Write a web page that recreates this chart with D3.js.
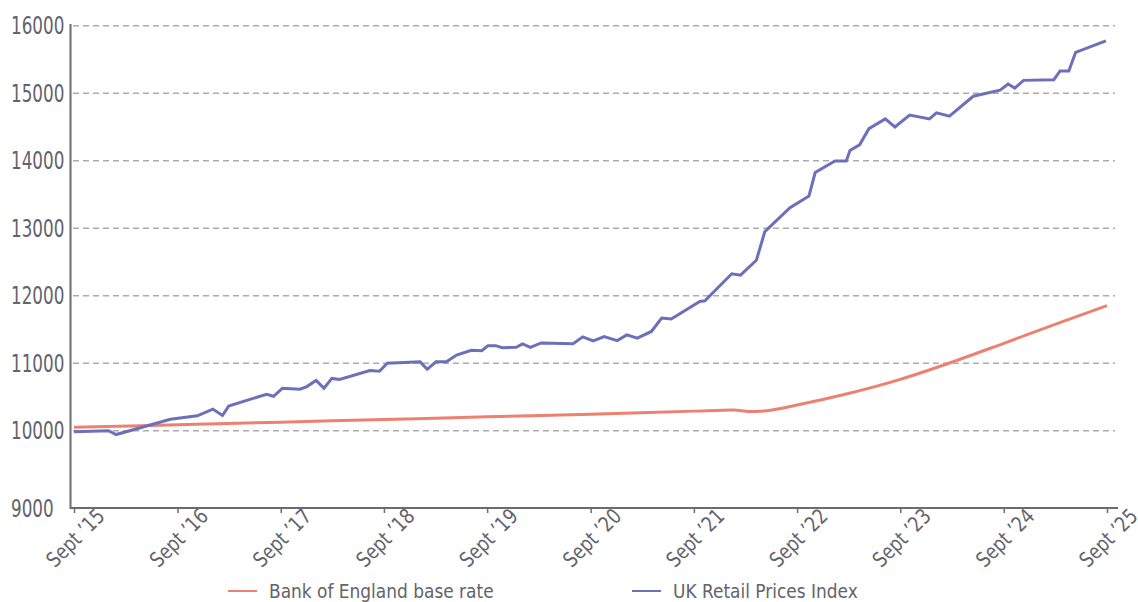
<!DOCTYPE html>
<html>
<head>
<meta charset="utf-8">
<script src="https://cdn.jsdelivr.net/npm/d3@7"></script>
<style>
  body { margin: 0; background: #fff; }
  text { font-family: "DejaVu Sans", sans-serif; fill: #63636b; }
</style>
</head>
<body>
<div id="chart"></div>
<script>
// values

var yTicks = [9000, 10000, 11000, 12000, 13000, 14000, 15000, 16000];
var gridTicks = [10000, 11000, 12000, 13000, 14000, 15000, 16000];

var xTickDates = ["2015-09-01", "2016-09-01", "2017-09-01", "2018-09-01", "2019-09-01",
  "2020-09-01", "2021-09-01", "2022-09-01", "2023-09-01", "2024-09-01", "2025-09-01"];
var xTickLabels = ["Sept \u201915", "Sept \u201916", "Sept \u201917", "Sept \u201918", "Sept \u201919",
  "Sept \u201920", "Sept \u201921", "Sept \u201922", "Sept \u201923", "Sept \u201924", "Sept \u201925"];

var seriesNames = ["Bank of England base rate", "UK Retail Prices Index"];
var seriesColors = ["#ec8172", "#6c70b9"];

// Bank of England base rate (10000 invested Sept '15)
var rateDates = ["2015-09-01", "2016-09-01", "2017-09-01", "2018-09-01", "2019-09-01",
  "2020-09-01", "2021-09-01", "2022-01-20", "2022-03-16", "2022-05-16", "2022-09-01",
  "2023-03-01", "2023-09-01", "2024-03-01", "2024-09-01", "2025-03-01", "2025-09-01"];
var rateValues = [10050, 10088, 10127, 10166, 10205,
  10245, 10290, 10307, 10284, 10297, 10380,
  10550, 10760, 11015, 11295, 11575, 11852];

// UK Retail Prices Index (rebased to 10000)
var rpiDates = ["2015-09-01", "2016-01-01", "2016-01-28", "2016-08-07", "2016-11-10",
  "2017-01-04", "2017-02-07", "2017-03-01", "2017-07-13", "2017-08-07", "2017-09-07",
  "2017-11-07", "2017-12-01", "2018-01-04", "2018-02-01", "2018-03-01", "2018-03-28",
  "2018-07-13", "2018-08-16", "2018-09-13", "2019-01-07", "2019-02-01", "2019-03-04",
  "2019-04-10", "2019-05-16", "2019-07-07", "2019-08-13", "2019-09-04", "2019-10-01",
  "2019-10-25", "2019-12-13", "2020-01-04", "2020-02-01", "2020-03-10", "2020-07-01",
  "2020-08-04", "2020-09-10", "2020-10-19", "2020-12-04", "2021-01-07", "2021-02-13",
  "2021-04-04", "2021-05-10", "2021-06-13", "2021-09-22", "2021-10-10", "2022-01-13",
  "2022-02-13", "2022-04-10", "2022-05-10", "2022-08-07", "2022-10-13", "2022-11-04",
  "2023-01-13", "2023-02-22", "2023-03-07", "2023-04-10", "2023-05-13", "2023-07-10",
  "2023-08-13", "2023-10-04", "2023-12-13", "2024-01-07", "2024-02-22", "2024-05-16",
  "2024-08-19", "2024-09-16", "2024-10-10", "2024-11-10", "2025-02-25", "2025-03-19",
  "2025-04-19", "2025-05-13", "2025-08-28"];
var rpiValues = [9985, 10000, 9950, 10170, 10220,
  10320, 10225, 10365, 10540, 10510, 10630,
  10615, 10650, 10745, 10630, 10775, 10760,
  10890, 10880, 11000, 11020, 10910, 11020,
  11020, 11120, 11190, 11185, 11260, 11260,
  11230, 11235, 11285, 11235, 11300, 11290,
  11390, 11330, 11395, 11335, 11420, 11370,
  11470, 11670, 11655, 11915, 11925, 12325,
  12305, 12525, 12950, 13305, 13475, 13825,
  13995, 13995, 14150, 14235, 14475, 14620,
  14500, 14675, 14620, 14710, 14660, 14955,
  15045, 15135, 15075, 15190, 15200, 15330,
  15330, 15605, 15775];

var svgWidth = 1138;
var svgHeight = 602;
var parse = d3.timeParse("%Y-%m-%d");

var svg = d3.select("#chart")
  .append("svg")
    .attr("width", svgWidth)
    .attr("height", svgHeight);

// scales
var x = d3.scaleTime()
  .domain([parse("2015-09-01"), parse("2025-09-01")])
  .range([74, 1107]);

// axis is broken below 10000, so 9000 sits on the baseline
var y = d3.scaleLinear()
  .domain([9000, 10000, 16000])
  .range([508, 430.7, 25.7]);

// dashed grid lines
svg.append("g")
  .selectAll("line")
  .data(gridTicks)
  .enter()
  .append("line")
    .attr("x1", 73)
    .attr("x2", 1115)
    .attr("y1", function(d) { return y(d); })
    .attr("y2", function(d) { return y(d); })
    .attr("stroke", "#ababab")
    .attr("stroke-width", 1.5)
    .attr("stroke-dasharray", "6,4");

// y axis
svg.append("line")
  .attr("x1", 70.5).attr("x2", 70.5)
  .attr("y1", 24).attr("y2", 509)
  .attr("stroke", "#6b6b70")
  .attr("stroke-width", 2);

// narrow the labels a bit, the original uses a condensed face
svg.append("g")
  .selectAll("text")
  .data(yTicks)
  .enter()
  .append("text")
    .attr("transform", function(d) { return "translate(11," + y(d) + ") scale(0.7,1)"; })
    .attr("dy", "0.36em")
    .style("font-size", "24px")
    .text(function(d) { return d; });

// x axis
var xAxis = d3.axisBottom(x)
  .tickValues(xTickDates.map(parse))
  .tickSize(5)
  .tickSizeOuter(0)
  .tickFormat(function(d, i) { return xTickLabels[i]; });

var gx = svg.append("g")
  .attr("transform", "translate(0,508)")
  .call(xAxis);

gx.select(".domain")
  .attr("d", "M70,0H1118")
  .attr("stroke", "#6b6b70")
  .attr("stroke-width", 2);
gx.selectAll(".tick line")
  .attr("stroke", "#6b6b70")
  .attr("stroke-width", 1.5);
gx.selectAll(".tick text")
  .attr("y", 0)
  .attr("dy", 0)
  .attr("transform", "translate(1,30) rotate(-45) scale(0.82,1)")
  .attr("text-anchor", "middle")
  .attr("dominant-baseline", "central")
  .style("font-size", "21px")
  .style("fill", "#63636b")
  .style("font-family", "\"DejaVu Sans\", sans-serif");

// lines
var rateData = rateDates.map(function(d, i) { return { date: parse(d), value: rateValues[i] }; });
var rpiData = rpiDates.map(function(d, i) { return { date: parse(d), value: rpiValues[i] }; });

var rateLine = d3.line()
  .x(function(d) { return x(d.date); })
  .y(function(d) { return y(d.value); })
  .curve(d3.curveMonotoneX);

var rpiLine = d3.line()
  .x(function(d) { return x(d.date); })
  .y(function(d) { return y(d.value); });

svg.append("path")
  .datum(rateData)
  .attr("d", rateLine)
  .attr("fill", "none")
  .attr("stroke", seriesColors[0])
  .attr("stroke-width", 3);

svg.append("path")
  .datum(rpiData)
  .attr("d", rpiLine)
  .attr("fill", "none")
  .attr("stroke", seriesColors[1])
  .attr("stroke-width", 3)
  .attr("stroke-linejoin", "miter");

// legend
var legendX = [228, 632];
var legend = svg.selectAll(".legend")
  .data(seriesNames)
  .enter()
  .append("g")
    .attr("class", "legend")
    .attr("transform", function(d, i) { return "translate(" + legendX[i] + ",591)"; });

legend.append("line")
  .attr("x1", 0).attr("x2", 29)
  .attr("stroke", function(d, i) { return seriesColors[i]; })
  .attr("stroke-width", 2);

legend.append("text")
  .attr("transform", "translate(41,0) scale(0.85,1)")
  .attr("dy", "0.36em")
  .style("font-size", "20px")
  .text(function(d) { return d; });
</script>
</body>
</html>
